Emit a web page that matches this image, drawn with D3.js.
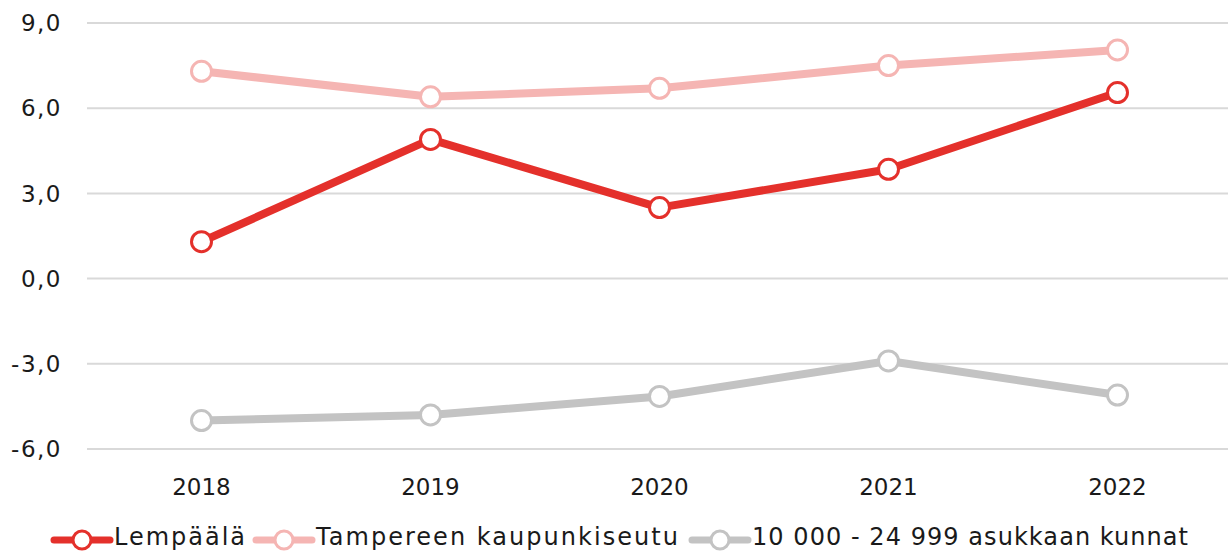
<!DOCTYPE html>
<html>
<head>
    <meta charset="utf-8">
    <title>Lempäälä</title>
    <script src="https://d3js.org/d3.v7.min.js"></script>
    <style>
        body { padding: 0; margin: 0; background: #fff; }
        text { font-family: "DejaVu Sans", "Open Sans", sans-serif; fill: #1a1a1a; }
    </style>
</head>
<body>
    <svg id="svg" width="1228" height="552"></svg>

    <script>
        const years = ["2018", "2019", "2020", "2021", "2022"];
        const lempaala = [1.3, 4.9, 2.5, 3.85, 6.55];
        const tampere = [7.3, 6.4, 6.7, 7.5, 8.05];
        const kunnat = [-5.0, -4.8, -4.15, -2.9, -4.1];
        const yTicks = [-6, -3, 0, 3, 6, 9];

        const series = [
            { name: "Lempäälä", values: lempaala, color: "#e4302b" },
            { name: "Tampereen kaupunkiseutu", values: tampere, color: "#f5b5b3" },
            { name: "10 000 - 24 999 asukkaan kunnat", values: kunnat, color: "#c3c3c3" }
        ];

        const svg = d3.select("svg");
        const x = d3.scalePoint().domain(years).range([87, 1232]).padding(0.5);
        const y = d3.scaleLinear().domain([-6, 9]).range([449, 23]);
        const fmt = v => d3.format(".1f")(v).replace(".", ",").replace("−", "-");

        // Gridlines
        svg.append("g")
            .selectAll("line")
            .data(yTicks)
            .join("line")
                .attr("x1", 87)
                .attr("x2", 1228)
                .attr("y1", d => y(d))
                .attr("y2", d => y(d))
                .attr("stroke", "#d9d9d9")
                .attr("stroke-width", 2);

        // Y-axis labels
        svg.append("g")
            .selectAll("text")
            .data(yTicks)
            .join("text")
                .attr("x", 62)
                .attr("y", d => y(d))
                .attr("dy", "0.36em")
                .attr("text-anchor", "end")
                .attr("font-size", 23)
                .attr("letter-spacing", 1.5)
                .text(d => fmt(d));

        // X-axis labels
        svg.append("g")
            .selectAll("text")
            .data(years)
            .join("text")
                .attr("x", d => x(d))
                .attr("y", 495)
                .attr("text-anchor", "middle")
                .attr("font-size", 23)
                .text(d => d);

        // Lines and markers
        const line = d3.line()
            .x((d, i) => x(years[i]))
            .y(d => y(d));

        series.forEach(s => {
            svg.append("path")
                .datum(s.values)
                .attr("fill", "none")
                .attr("stroke", s.color)
                .attr("stroke-width", 8)
                .attr("stroke-linejoin", "round")
                .attr("d", line);

            svg.append("g")
                .selectAll("circle")
                .data(s.values)
                .join("circle")
                    .attr("cx", (d, i) => x(years[i]))
                    .attr("cy", d => y(d))
                    .attr("r", 10)
                    .attr("fill", "#fff")
                    .attr("stroke", s.color)
                    .attr("stroke-width", 3);
        });

        // Legend
        const legendX = [54, 256, 692];
        const legendW = [131, 362, 436];
        const legend = svg.append("g");
        series.forEach((s, i) => {
            const g = legend.append("g").attr("transform", `translate(${legendX[i]},540)`);
            g.append("line")
                .attr("x1", 0).attr("x2", 56)
                .attr("stroke", s.color)
                .attr("stroke-width", 7)
                .attr("stroke-linecap", "round");
            g.append("circle")
                .attr("cx", 28).attr("r", 9)
                .attr("fill", "#fff")
                .attr("stroke", s.color)
                .attr("stroke-width", 3);
            g.append("text")
                .attr("x", 60)
                .attr("y", 5)
                .attr("font-size", 24)
                .attr("textLength", legendW[i])
                .attr("lengthAdjust", "spacing")
                .text(s.name);
        });
    </script>
</body>
</html>
